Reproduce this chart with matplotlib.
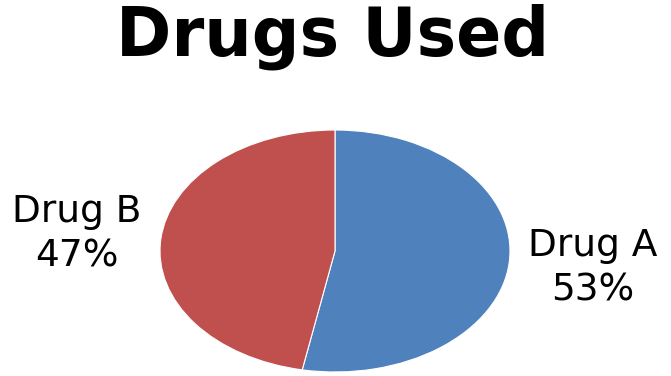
import matplotlib.pyplot as plt

# Data
drugs = ["Drug A", "Drug B"]
shares = [53, 47]
colors = ["#4F81BD", "#C0504D"]

labels = [f"{d}\n{s}%" for d, s in zip(drugs, shares)]

fig = plt.figure(figsize=(6.71, 3.76), dpi=100)

# pie is stretched horizontally in the reference, so use a non-square axes
ax = fig.add_axes([160 / 671, 4 / 376, 350 / 671, 242 / 376])
ax.pie(shares, labels=labels, colors=colors, startangle=90, counterclock=False,
       labeldistance=1.48,
       wedgeprops=dict(edgecolor="white", linewidth=0.8),
       textprops=dict(fontsize=27, ha="center", va="center", linespacing=1.3))
ax.set_aspect("auto")
ax.set_xlim(-1, 1)
ax.set_ylim(-1, 1)

fig.text(333 / 671, 1 - 56 / 376, "Drugs Used", ha="center", va="baseline",
         fontsize=48, fontweight="bold")

fig.savefig("out.png", dpi=100)
